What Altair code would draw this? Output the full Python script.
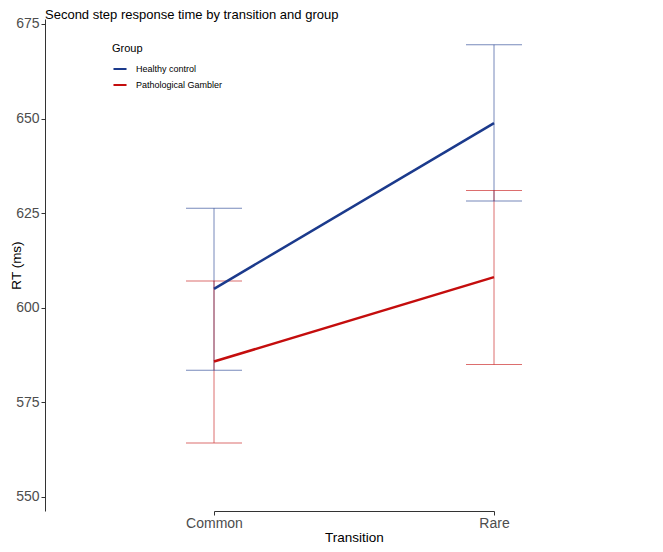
import altair as alt
import pandas as pd

transitions = ["Common", "Rare"]
groups = ["Healthy control", "Pathological Gambler"]
hc_mean = [605.0, 648.8]
hc_lower = [583.5, 628.2]
hc_upper = [626.3, 669.5]
pg_mean = [585.8, 608.1]
pg_lower = [564.3, 585.0]
pg_upper = [607.1, 631.0]
group_colors = ["#1b3a8c", "#c40d0d"]
y_ticks = [550, 575, 600, 625, 650, 675]

rows = []
for g, m, lo, hi in [(groups[0], hc_mean, hc_lower, hc_upper),
                     (groups[1], pg_mean, pg_lower, pg_upper)]:
    for t, a, b, c in zip(transitions, m, lo, hi):
        rows.append({"Transition": t, "Group": g, "RT": a, "lower": b, "upper": c})
df = pd.DataFrame(rows)

FONT = "Liberation Sans"

x_enc = alt.X(
    "Transition:N",
    scale=alt.Scale(type="point", domain=transitions, range=[169, 449], padding=0),
    axis=alt.Axis(
        title="Transition", titleFontSize=13.5, titleFontWeight="normal", titleColor="black",
        labelFontSize=14, labelColor="#4d4d4d", labelAngle=0, tickColor="#333333",
        domainColor="#333333", tickSize=4, labelPadding=1, titlePadding=0, grid=False,
    ),
)
y_scale = alt.Scale(domain=[546.3, 676.3], nice=False, zero=False)
y_axis = alt.Axis(
    values=y_ticks, title="RT (ms)", titleFontSize=13.5, titleFontWeight="normal",
    titleColor="black", labelFontSize=14, labelColor="#4d4d4d", tickColor="#333333",
    domainColor="#333333", tickSize=4, labelPadding=2, grid=False, titleX=-22,
)
color_scale = alt.Scale(domain=groups, range=group_colors)
legend = alt.Legend(
    orient="none", legendX=67, legendY=24, title="Group", titleFontSize=11,
    titleFontWeight="normal", titleColor="black", labelFontSize=9,
    labelColor="black", symbolType="stroke", symbolStrokeWidth=2,
    symbolSize=170, symbolOpacity=1, rowPadding=3, titlePadding=7, labelOffset=8,
    padding=0,
)
color_enc = alt.Color("Group:N", scale=color_scale, legend=legend)

base = alt.Chart(df)

rules = base.mark_rule(strokeWidth=1, opacity=0.6).encode(
    x=x_enc,
    y=alt.Y("lower:Q", scale=y_scale, axis=y_axis),
    y2="upper:Q",
    color=color_enc,
)
caps_hi = base.mark_tick(size=56, thickness=1, opacity=0.6, orient="horizontal").encode(
    x=x_enc,
    y=alt.Y("upper:Q", scale=y_scale, axis=y_axis),
    color=color_enc,
)
caps_lo = base.mark_tick(size=56, thickness=1, opacity=0.6, orient="horizontal").encode(
    x=x_enc,
    y=alt.Y("lower:Q", scale=y_scale, axis=y_axis),
    color=color_enc,
)
lines = base.mark_line(strokeWidth=2.5).encode(
    x=x_enc,
    y=alt.Y("RT:Q", scale=y_scale, axis=y_axis),
    color=color_enc,
)

chart = (
    alt.layer(rules, caps_hi, caps_lo, lines)
    .properties(
        width=610,
        height=492,
        title=alt.TitleParams(
            "Second step response time by transition and group", anchor="start",
            frame="group", fontSize=13, fontWeight="normal", color="black",
            offset=-5, font=FONT,
        ),
        padding={"left": 37, "top": 11, "right": 0, "bottom": 38},
        autosize=alt.AutoSizeParams(type="none"),
    )
    .configure(font=FONT)
    .configure_view(stroke=None)
)

chart.save("out.html", embed_options={"renderer": "svg", "actions": False})
